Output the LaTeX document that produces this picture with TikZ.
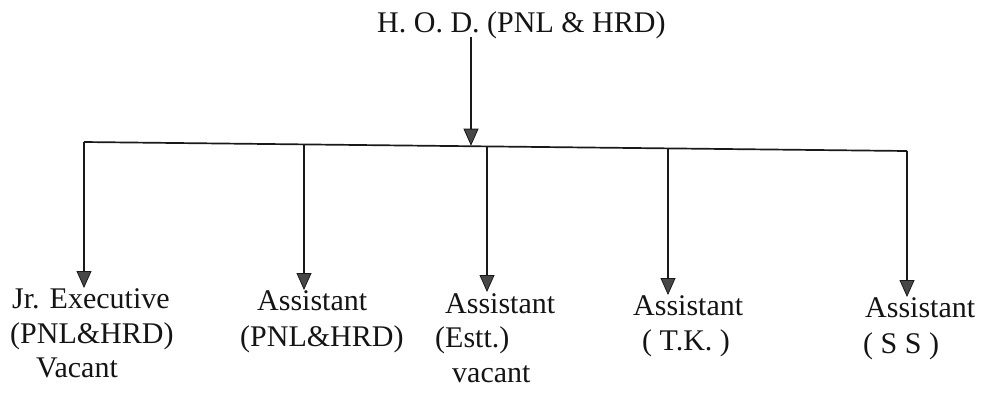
\documentclass[tikz,border=0pt]{standalone}
\usepackage{fontspec}
\setmainfont{Liberation Serif}
\usetikzlibrary{arrows.meta}
\begin{document}
\begin{tikzpicture}[x=1pt,y=-1pt,
  lbl/.style={anchor=base west,inner sep=0pt,text=black!92,font=\fontsize{30}{35}\selectfont},
  wire/.style={line width=1.7pt,draw=black!90},
  arr/.style={wire,-{Triangle[width=15pt,length=17pt,fill=black!72,line width=0.8pt]}}]
\useasboundingbox (0,0) rectangle (984,392);
% title
\node[lbl] (hod) at (377,32) {H. O. D. (PNL \& HRD)};
\coordinate (hodout) at (471,37);
\coordinate (hodin) at (471,145.7);
% bar points
\coordinate (b1) at (84,142);
\coordinate (b2) at (304,144.4);
\coordinate (b3) at (487,146.4);
\coordinate (b4) at (668,148.4);
\coordinate (b5) at (907,151);
% tips
\coordinate (t1) at (84,288);
\coordinate (t2) at (304,290);
\coordinate (t3) at (487,292);
\coordinate (t4) at (668,295);
\coordinate (t5) at (907,297);
% connectors
\draw[arr] (hodout) -- (hodin);
\draw[wire] (b1) -- (b5);
\draw[arr] (b1) -- (t1);
\draw[arr] (b2) -- (t2);
\draw[arr] (b3) -- (t3);
\draw[arr] (b4) -- (t4);
\draw[arr] (b5) -- (t5);
% labels
\node[lbl] (l1a) at (12,308) {Jr. Executive};
\node[lbl] (l1b) at (10,343) {(PNL\&HRD)};
\node[lbl] (l1c) at (36,377) {Vacant};
\node[lbl] (l2a) at (257,310) {Assistant};
\node[lbl] (l2b) at (240,346) {(PNL\&HRD)};
\node[lbl] (l3a) at (445,313) {Assistant};
\node[lbl] (l3b) at (435,347) {(Estt.)};
\node[lbl] (l3c) at (452,382) {vacant};
\node[lbl] (l4a) at (633,315) {Assistant};
\node[lbl] (l4b) at (642,350) {( T.K. )};
\node[lbl] (l5a) at (865,317) {Assistant};
\node[lbl] (l5b) at (863,353) {( S S )};
\end{tikzpicture}
\end{document}
